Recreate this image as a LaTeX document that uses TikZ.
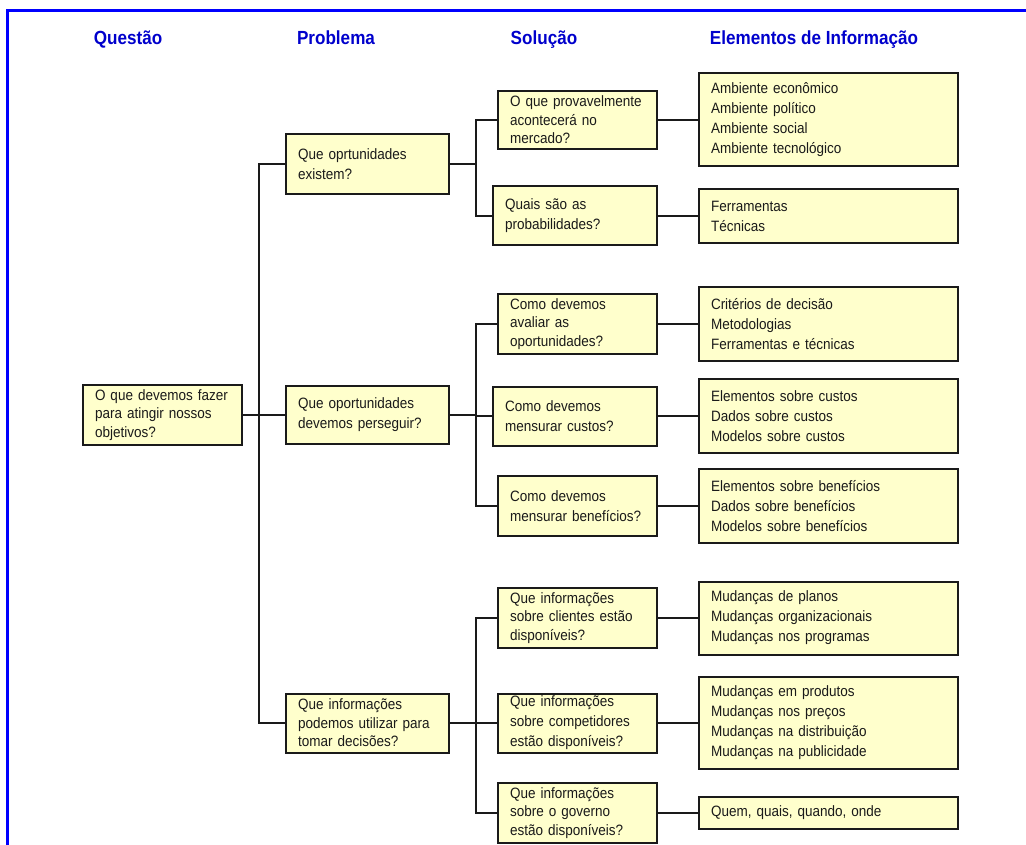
\documentclass[tikz,border=0pt]{standalone}
\usepackage{fontspec}
\setmainfont{Liberation Sans}[FakeStretch=0.9]
\usetikzlibrary{calc}
\definecolor{boxfill}{HTML}{FFFFCC}
\definecolor{headblue}{RGB}{0,0,204}
\definecolor{frameblue}{RGB}{0,0,255}
\definecolor{ink}{HTML}{1A1A1A}

\begin{document}
\begin{tikzpicture}[x=1pt,y=-1pt,
  box/.style={draw=ink, line width=2pt, fill=boxfill, text=ink,
    inner xsep=12pt, inner ysep=0pt, align=left,
    font=\fontsize{15}{18.5}\selectfont},
  wide/.style={font=\fontsize{15}{20}\selectfont},
  qbox/.style={box, text width=135pt},
  pbox/.style={box, text width=139pt},
  sbox/.style={box, text width=135pt},
  swbox/.style={box, text width=140pt},
  ebox/.style={box, wide, text width=235pt},
  head/.style={anchor=base, text=headblue, font=\fontsize{19}{22}\bfseries\selectfont},
  conn/.style={draw=ink, line width=2pt}
]
\useasboundingbox (0,0) rectangle (1026,845);

% page frame
\draw[frameblue, line width=3pt] (7.5,845) -- (7.5,11) -- (1026,11);

% column headings
\node[head] (hq) at (128,45) {Questão};
\node[head] (hp) at (336,45) {Problema};
\node[head] (hs) at (544,45) {Solução};
\node[head] (he) at (814,45) {Elementos de Informação};

% question
\node[qbox, minimum height=60pt] (Q) at (162.5,415) {O que devemos fazer\\para atingir nossos\\objetivos?};

% problems
\node[pbox, wide, minimum height=60pt] (P1) at (367.5,164) {Que oprtunidades\\existem?};
\node[pbox, wide, minimum height=58pt] (P2) at (367.5,415) {Que oportunidades\\devemos perseguir?};
\node[pbox, minimum height=59pt] (P3) at (367.5,723) {Que informações\\podemos utilizar para\\tomar decisões?};

% solutions
\node[sbox, minimum height=58pt] (S1) at (577.5,120) {O que provavelmente\\acontecerá no\\mercado?};
\node[swbox, wide, minimum height=59pt] (S2) at (575,216) {Quais são as\\probabilidades?};
\node[sbox, minimum height=59pt] (S3) at (577.5,324) {Como devemos\\avaliar as\\oportunidades?};
\node[swbox, wide, minimum height=59pt] (S4) at (575,416) {Como devemos\\mensurar custos?};
\node[sbox, wide, minimum height=60pt] (S5) at (577.5,506) {Como devemos\\mensurar benefícios?};
\node[sbox, minimum height=60pt] (S6) at (577.5,618) {Que informações\\sobre clientes estão\\disponíveis?};
\node[sbox, wide, minimum height=59pt] (S7) at (577.5,723) {Que informações\\sobre competidores\\estão disponíveis?};
\node[sbox, minimum height=60pt] (S8) at (577.5,813) {Que informações\\sobre o governo\\estão disponíveis?};

% information elements
\node[ebox, minimum height=93pt] (E1) at (828.5,120) {Ambiente econômico\\Ambiente político\\Ambiente social\\Ambiente tecnológico};
\node[ebox, minimum height=54pt] (E2) at (828.5,216) {Ferramentas\\Técnicas};
\node[ebox, minimum height=74pt] (E3) at (828.5,324) {Critérios de decisão\\Metodologias\\Ferramentas e técnicas};
\node[ebox, minimum height=74pt] (E4) at (828.5,416) {Elementos sobre custos\\Dados sobre custos\\Modelos sobre custos};
\node[ebox, minimum height=74pt] (E5) at (828.5,506) {Elementos sobre benefícios\\Dados sobre benefícios\\Modelos sobre benefícios};
\node[ebox, minimum height=73pt] (E6) at (828.5,618) {Mudanças de planos\\Mudanças organizacionais\\Mudanças nos programas};
\node[ebox, minimum height=92pt] (E7) at (828.5,723) {Mudanças em produtos\\Mudanças nos preços\\Mudanças na distribuição\\Mudanças na publicidade};
\node[ebox, minimum height=32pt] (E8) at (828.5,813) {Quem, quais, quando, onde};

% junction columns
\coordinate (trunk) at (259,0);
\coordinate (fork) at (476,0);

% question to problems
\draw[conn] (P1.west) -- (P1.west -| trunk) -- (P3.west -| trunk) -- (P3.west);
\draw[conn] (Q.east) -- (P2.west);

% problems to solutions
\draw[conn] (S1.west) -- (S1.west -| fork) -- (S2.west -| fork) -- (S2.west);
\draw[conn] (P1.east) -- (P1.east -| fork);
\draw[conn] (S3.west) -- (S3.west -| fork) -- (S5.west -| fork) -- (S5.west);
\draw[conn] (P2.east) -- (P2.east -| fork);
\draw[conn] (S4.west) -- (S4.west -| fork);
\draw[conn] (S6.west) -- (S6.west -| fork) -- (S8.west -| fork) -- (S8.west);
\draw[conn] (P3.east) -- (P3.east -| fork);
\draw[conn] (S7.west) -- (S7.west -| fork);

% solutions to information elements
\foreach \i in {1,...,8}
  \draw[conn] (S\i.east) -- (S\i.east -| E\i.west);
\end{tikzpicture}
\end{document}
